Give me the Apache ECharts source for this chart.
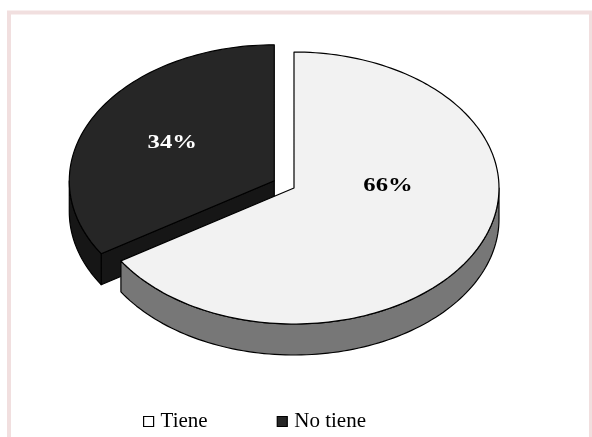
<!DOCTYPE html>
<html>
<head>
<meta charset="utf-8">
<script src="https://cdn.jsdelivr.net/npm/echarts@6/dist/echarts.min.js"></script>
<style>
  html, body { margin: 0; padding: 0; background: #ffffff; }
  #chart { width: 592px; height: 437px; }
</style>
</head>
<body>
<div id="chart"></div>
<script>
// Survey answer shares
const categories = ['Tiene', 'No tiene'];
const shares = [66, 34];

// Slice styling
const topColors = ['#f2f2f2', '#262626'];
const sideColors = ['#777777', '#161616'];
const labelColors = ['#000000', '#ffffff'];
const legendFill = ['#ffffff', '#262626'];

// 3D pie layout (pixels): ellipse of the top face, wall height, explode distance
const pie = { cx: 294, cy: 188, rx: 205, ry: 136, depth: 31 };
const explode = [0, 22.5];
// label anchor relative to each slice's own centre
const labelOffset = [[94, -2], [-102, -38]];

const total = shares.reduce((s, v) => s + v, 0);

function renderSlice(i) {
  return function (params, api) {
    let start = 0;
    for (let k = 0; k < i; k++) start += shares[k];
    const value = api.value(0);
    const a0 = start / total * 360;
    const a1 = (start + value) / total * 360;
    const mid = (a0 + a1) / 2 * Math.PI / 180;
    const cx = pie.cx + explode[i] * Math.sin(mid);
    const cy = pie.cy - explode[i] * Math.cos(mid) * pie.ry / pie.rx;

    const pt = (deg, dy) => {
      const r = deg * Math.PI / 180;
      return [cx + pie.rx * Math.sin(r), cy - pie.ry * Math.cos(r) + (dy || 0)];
    };
    const arc = (from, to, dy) => {
      const n = Math.max(2, Math.ceil(Math.abs(to - from) / 1.5));
      const pts = [];
      for (let k = 0; k <= n; k++) pts.push(pt(from + (to - from) * k / n, dy));
      return pts;
    };
    const edge = { stroke: '#000000', lineWidth: 1.2, lineJoin: 'round' };
    const children = [];
    const d = pie.depth;

    // radial walls that face the viewer
    [[a0, a0 - 90], [a1, a1 + 90]].forEach(([a, n]) => {
      if (Math.cos(n * Math.PI / 180) < -1e-6) {
        const p = pt(a);
        children.push({
          type: 'polygon',
          shape: { points: [[cx, cy], p, [p[0], p[1] + d], [cx, cy + d]] },
          style: Object.assign({ fill: sideColors[i] }, edge)
        });
      }
    });

    // outer wall on the front half of the rim
    const s0 = Math.max(a0, 90), s1 = Math.min(a1, 270);
    if (s1 > s0) {
      const topArc = arc(s0, s1, 0);
      const botArc = arc(s0, s1, d).reverse();
      children.push({
        type: 'polygon',
        shape: { points: topArc.concat(botArc) },
        style: Object.assign({ fill: sideColors[i] }, edge)
      });
    }

    // top face
    children.push({
      type: 'polygon',
      shape: { points: [[cx, cy]].concat(arc(a0, a1, 0)) },
      style: Object.assign({ fill: topColors[i] }, edge)
    });

    // percentage label
    children.push({
      type: 'text',
      x: cx + labelOffset[i][0],
      y: cy + labelOffset[i][1],
      scaleX: 1.3,
      style: {
        text: Math.round(value / total * 100) + '%',
        font: 'bold 19px "Liberation Serif", "Times New Roman", serif',
        fill: labelColors[i],
        align: 'center',
        verticalAlign: 'middle'
      }
    });

    return { type: 'group', children: children };
  };
}

const chart = echarts.init(document.getElementById('chart'), null, { renderer: 'canvas' });

chart.setOption({
  animation: false,
  backgroundColor: '#ffffff',
  graphic: [{
    type: 'rect',
    silent: true,
    z: -10,
    shape: { x: 9, y: 12.5, width: 582, height: 440 },
    style: { fill: 'none', stroke: '#f1dfdf', lineWidth: 4 }
  }],
  legend: {
    top: 411,
    left: 143,
    padding: 0,
    itemWidth: 10,
    itemHeight: 10,
    itemGap: 69,
    icon: 'rect',
    selectedMode: false,
    textStyle: {
      fontFamily: '"Liberation Serif", "Times New Roman", serif',
      fontSize: 21,
      color: '#000000',
      padding: [0, 0, 0, 2]
    },
    data: categories.map((name, i) => ({
      name: name,
      itemStyle: { color: legendFill[i], borderColor: '#000000', borderWidth: 1.2 }
    }))
  },
  series: categories.map((name, i) => ({
    type: 'custom',
    name: name,
    coordinateSystem: 'none',
    z: i === 0 ? 3 : 2,
    itemStyle: { color: legendFill[i] },
    renderItem: renderSlice(i),
    data: [shares[i]]
  }))
});
</script>
</body>
</html>
